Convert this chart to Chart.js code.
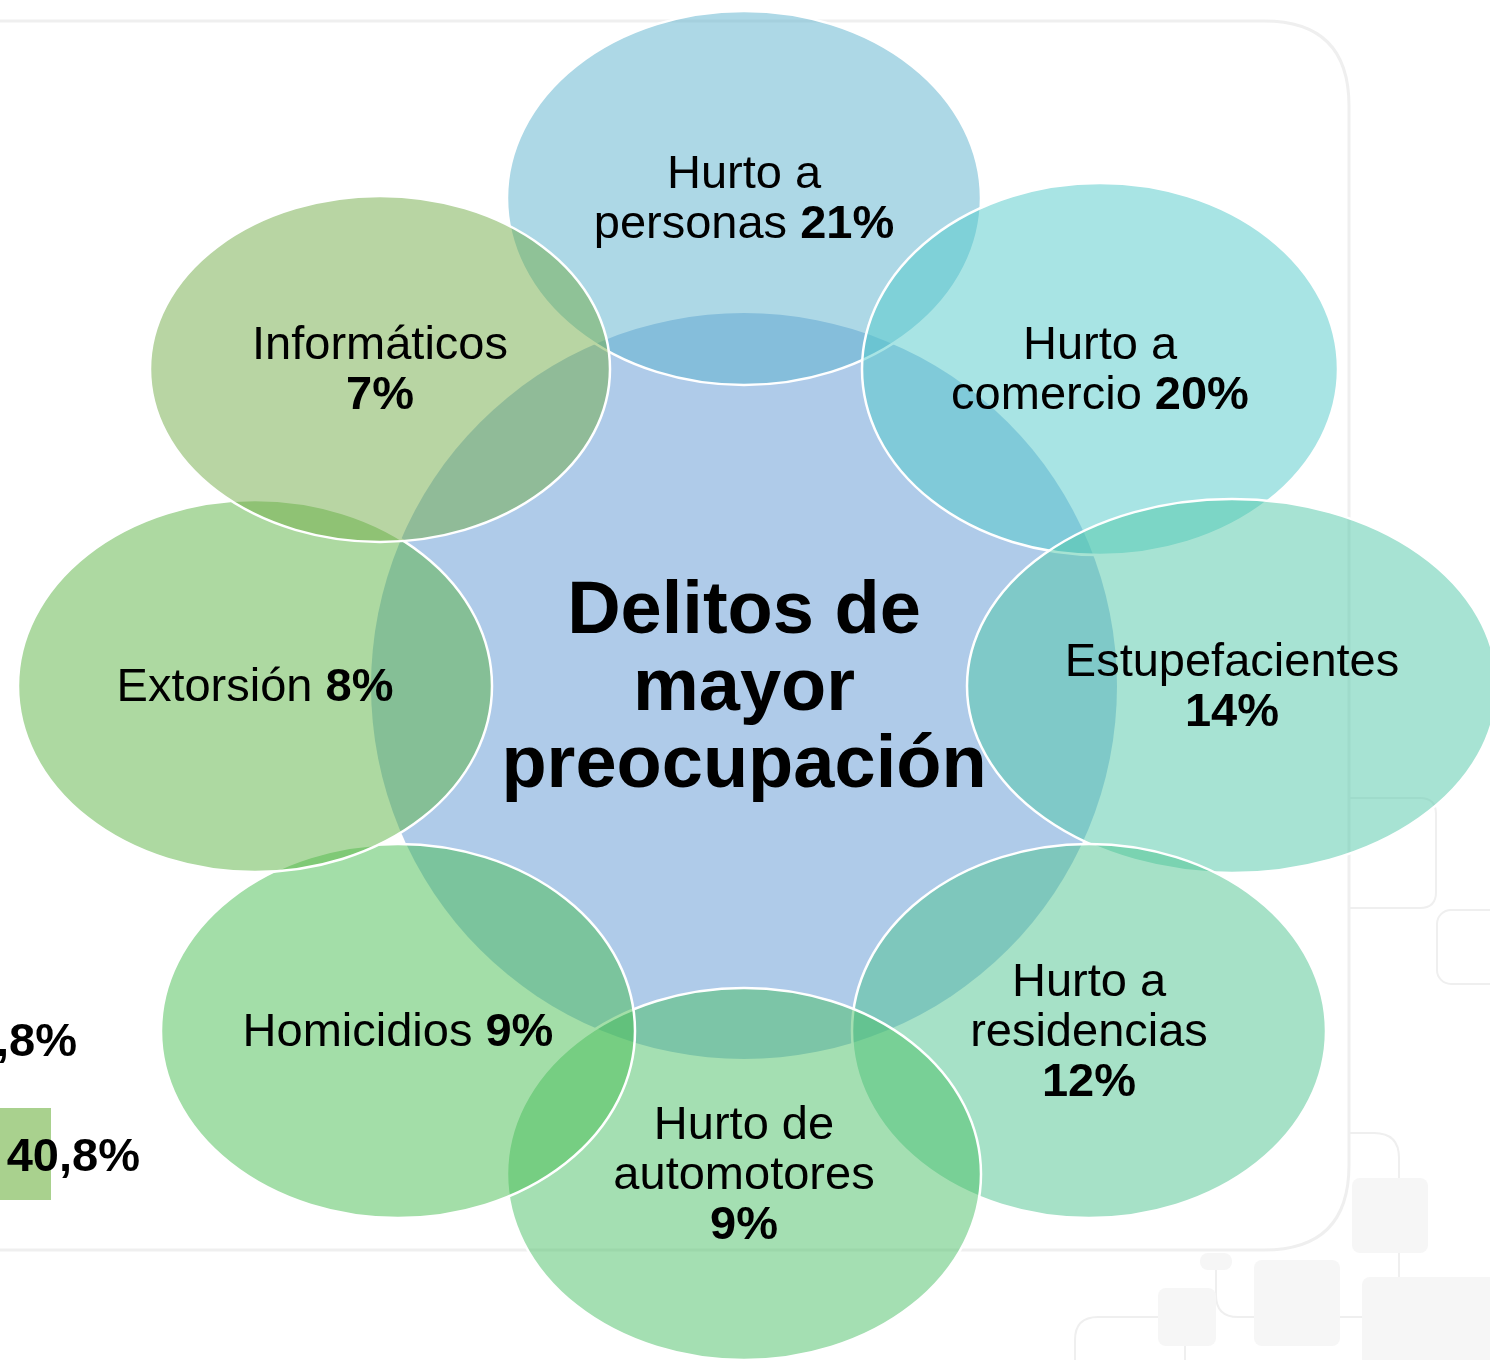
<!DOCTYPE html>
<html>
<head>
<meta charset="utf-8">
<script src="https://cdn.jsdelivr.net/npm/chart.js@4.4.1/dist/chart.umd.min.js"></script>
<style>
    body { margin: 0; background: #ffffff; }
    #wrap { width: 1490px; height: 1360px; position: relative; }
</style>
</head>
<body>
<div id="wrap"><canvas id="grafikDelitos"></canvas></div>
<script>
// Datos del diagrama
const titulo = ["Delitos de", "mayor", "preocupación"];
const categorias = [
    "Hurto a personas",
    "Hurto a comercio",
    "Estupefacientes",
    "Hurto a residencias",
    "Hurto de automotores",
    "Homicidios",
    "Extorsión",
    "Informáticos"
];
const porcentajes = [21, 20, 14, 12, 9, 9, 8, 7];

// Restos del gráfico vecino (cortado a la izquierda)
const restoTextos = [",8%", "40,8%"];

// Colores de cada elipse (relleno semitransparente)
const colores = [
    "rgba(91,177,205,0.5)",
    "rgba(81,201,201,0.5)",
    "rgba(79,199,167,0.5)",
    "rgba(77,195,143,0.5)",
    "rgba(73,191,101,0.5)",
    "rgba(71,189,81,0.5)",
    "rgba(91,179,67,0.5)",
    "rgba(113,171,71,0.5)"
];
const colorCentro = "rgb(175,203,233)";

const FUENTE = "'Liberation Sans', Arial, sans-serif";
const RADIO_CENTRO = 373;

// Disposición de las elipses alrededor del centro (unidades de la escala)
// [dx, dy, radioX, radioY]
const disposicion = [
    [0, 488, 237, 187],
    [356, 317, 238, 186],
    [488, 0, 265, 187],
    [345, -345, 237, 187],
    [0, -488, 237, 186],
    [-346, -345, 237, 187],
    [-489, 0, 237, 186],
    [-364, 317, 230, 173]
];

const puntos = categorias.map((c, i) => ({ x: disposicion[i][0], y: disposicion[i][1] }));

// Partir el texto en líneas
function partirTexto(ctx, tokens, maxAncho) {
    const lineas = [];
    let actual = [];
    let ancho = 0;
    tokens.forEach(t => {
        ctx.font = (t.bold ? "bold " : "") + "47px " + FUENTE;
        const w = ctx.measureText(t.txt).width;
        ctx.font = "47px " + FUENTE;
        const esp = actual.length ? ctx.measureText(" ").width : 0;
        if (actual.length && ancho + esp + w > maxAncho) {
            lineas.push(actual);
            actual = [];
            ancho = 0;
        }
        actual.push({ txt: t.txt, bold: t.bold, w: w });
        ancho += (actual.length > 1 ? esp : 0) + w;
    });
    if (actual.length) lineas.push(actual);
    return lineas;
}

// Fondo decorativo
const fondoPlugin = {
    id: "fondo",
    beforeDraw(chart) {
        const ctx = chart.ctx;
        ctx.save();
        ctx.fillStyle = "#ffffff";
        ctx.fillRect(0, 0, chart.width, chart.height);
        ctx.strokeStyle = "#efefef";
        ctx.lineWidth = 3;

        // marco grande
        ctx.beginPath();
        ctx.moveTo(0, 21);
        ctx.lineTo(1264, 21);
        ctx.quadraticCurveTo(1349, 21, 1349, 106);
        ctx.lineTo(1349, 1165);
        ctx.quadraticCurveTo(1349, 1250, 1264, 1250);
        ctx.lineTo(0, 1250);
        ctx.stroke();

        ctx.lineWidth = 2;
        ctx.beginPath();
        ctx.moveTo(1349, 798);
        ctx.lineTo(1420, 798);
        ctx.quadraticCurveTo(1436, 798, 1436, 814);
        ctx.lineTo(1436, 892);
        ctx.quadraticCurveTo(1436, 908, 1420, 908);
        ctx.lineTo(1349, 908);
        ctx.stroke();

        ctx.beginPath();
        ctx.roundRect(1437, 910, 70, 74, 14);
        ctx.stroke();

        // bloques de abajo a la derecha
        ctx.beginPath();
        ctx.moveTo(1349, 1133);
        ctx.lineTo(1374, 1133);
        ctx.quadraticCurveTo(1399, 1133, 1399, 1158);
        ctx.lineTo(1399, 1290);
        ctx.moveTo(1216, 1262);
        ctx.lineTo(1216, 1295);
        ctx.quadraticCurveTo(1216, 1317, 1238, 1317);
        ctx.lineTo(1380, 1317);
        ctx.moveTo(1170, 1317);
        ctx.lineTo(1098, 1317);
        ctx.quadraticCurveTo(1075, 1317, 1075, 1340);
        ctx.lineTo(1075, 1365);
        ctx.moveTo(1185, 1330);
        ctx.lineTo(1185, 1365);
        ctx.stroke();

        ctx.fillStyle = "#f6f6f6";
        [[1352, 1178, 76, 75], [1254, 1260, 86, 86], [1362, 1277, 140, 90],
         [1200, 1253, 32, 17], [1158, 1288, 58, 58]].forEach(r => {
            ctx.beginPath();
            ctx.roundRect(r[0], r[1], r[2], r[3], 8);
            ctx.fill();
        });

        // resto del gráfico vecino
        ctx.fillStyle = "#a9d18e";
        ctx.fillRect(0, 1108, 51, 92);
        ctx.fillStyle = "#000000";
        ctx.font = "bold 47px " + FUENTE;
        ctx.textAlign = "right";
        ctx.textBaseline = "middle";
        ctx.fillText(restoTextos[0], 77, 1043);
        ctx.fillText(restoTextos[1], 140, 1158);
        ctx.restore();
    }
};

// Elipses y textos
const elipsesPlugin = {
    id: "elipses",
    afterDatasetsDraw(chart) {
        const ctx = chart.ctx;
        const sx = chart.scales.x, sy = chart.scales.y;
        const px = v => sx.getPixelForValue(v);
        const py = v => sy.getPixelForValue(v);
        const ancho = v => Math.abs(px(v) - px(0));
        const alto = v => Math.abs(py(v) - py(0));

        ctx.save();
        // círculo central
        ctx.beginPath();
        ctx.ellipse(px(0), py(0), ancho(RADIO_CENTRO), alto(RADIO_CENTRO), 0, 0, Math.PI * 2);
        ctx.fillStyle = colorCentro;
        ctx.fill();

        const meta = chart.getDatasetMeta(0);
        meta.data.forEach((el, i) => {
            ctx.beginPath();
            ctx.ellipse(el.x, el.y, ancho(disposicion[i][2]), alto(disposicion[i][3]), 0, 0, Math.PI * 2);
            ctx.fillStyle = colores[i];
            ctx.fill();
            ctx.strokeStyle = "#ffffff";
            ctx.lineWidth = 2.5;
            ctx.stroke();
        });

        // título central
        ctx.fillStyle = "#000000";
        ctx.textAlign = "center";
        ctx.textBaseline = "middle";
        ctx.font = "bold 74px " + FUENTE;
        titulo.forEach((t, k) => {
            ctx.fillText(t, px(0), py(0) + (k - 1) * 77 + 4);
        });

        // etiquetas
        ctx.textAlign = "left";
        meta.data.forEach((el, i) => {
            const tokens = categorias[i].split(" ").map(w => ({ txt: w, bold: false }));
            tokens.push({ txt: porcentajes[i] + "%", bold: true });
            const lineas = partirTexto(ctx, tokens, 330);
            ctx.font = "47px " + FUENTE;
            const esp = ctx.measureText(" ").width;
            lineas.forEach((linea, k) => {
                const total = linea.reduce((s, t) => s + t.w, 0) + esp * (linea.length - 1);
                let x = el.x - total / 2;
                const y = el.y + (k - (lineas.length - 1) / 2) * 50 + 2;
                linea.forEach(t => {
                    ctx.font = (t.bold ? "bold " : "") + "47px " + FUENTE;
                    ctx.fillText(t.txt, x, y);
                    x += t.w + esp;
                });
            });
        });
        ctx.restore();
    }
};

const ctx = document.getElementById("grafikDelitos").getContext("2d");
const chart = new Chart(ctx, {
    type: "scatter",
    data: {
        labels: categorias,
        datasets: [{
            label: "Delitos de mayor preocupación",
            data: puntos,
            pointRadius: 0,
            pointHoverRadius: 0
        }]
    },
    options: {
        responsive: true,
        maintainAspectRatio: false,
        animation: false,
        layout: { padding: 0 },
        plugins: {
            legend: { display: false },
            tooltip: { enabled: false }
        },
        scales: {
            x: { type: "linear", min: -744, max: 746, display: false },
            y: { type: "linear", min: -674, max: 686, display: false }
        }
    },
    plugins: [fondoPlugin, elipsesPlugin]
});
</script>
</body>
</html>
